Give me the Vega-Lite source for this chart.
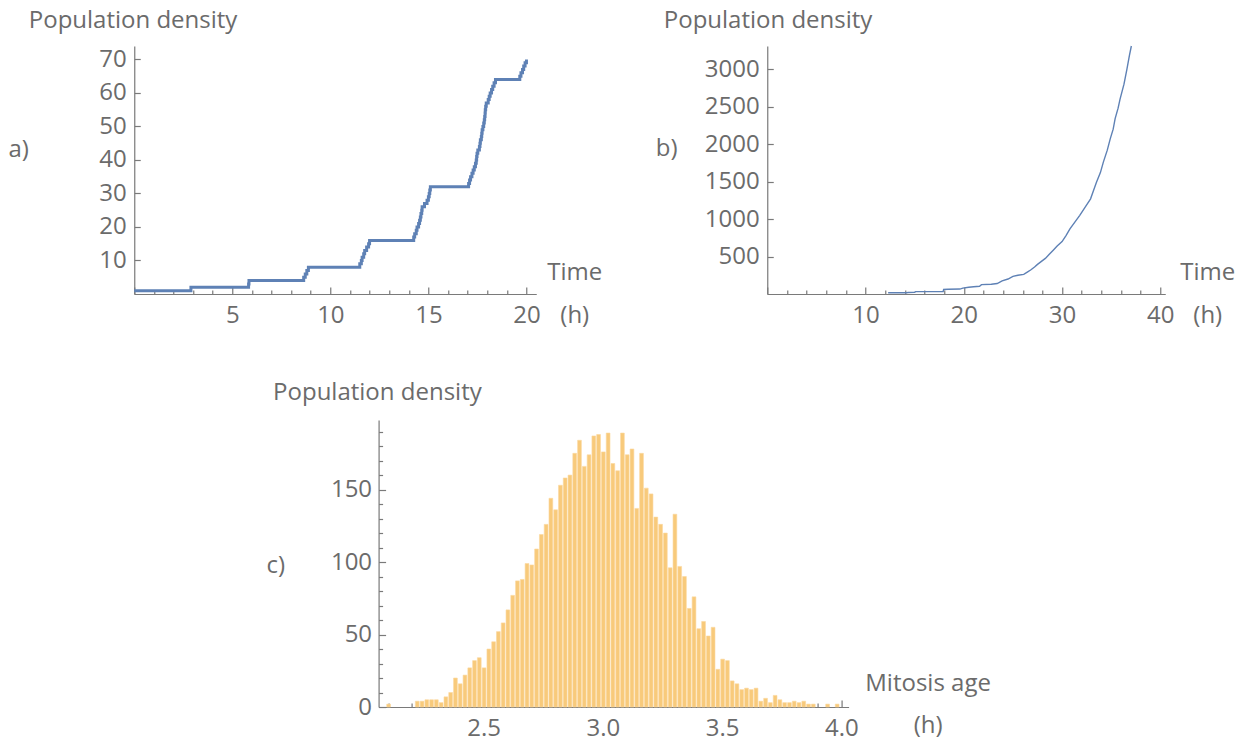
{
  "$schema": "https://vega.github.io/schema/vega-lite/v6.json",
  "background": "white",
  "padding": {"left": 8, "top": 8, "right": 5, "bottom": 5},
  "config": {
    "view": {"stroke": null},
    "font": "Open Sans",
    "axis": {
      "grid": false,
      "domainColor": "#7a7a7a", "domainWidth": 1.2,
      "tickColor": "#7a7a7a", "tickWidth": 1.2,
      "labelFont": "Open Sans", "labelFontSize": 24, "labelColor": "#6b6b6b",
      "titleFont": "Open Sans", "titleFontSize": 24, "titleColor": "#6b6b6b", "titleFontWeight": "normal"
    },
    "title": {"font": "Open Sans", "fontSize": 24, "color": "#6b6b6b", "fontWeight": "normal"}
  },
  "bounds": "full",
  "center": true,
  "spacing": 50,
  "vconcat": [
    {
      "bounds": "flush",
      "spacing": 231,
      "hconcat": [
        {
          "width": 402, "height": 248,
          "title": {"text": "a)", "orient": "left", "angle": 0, "align": "right", "baseline": "middle", "frame": "group", "offset": -4, "dx": 17, "dy": -20},
          "data": {"values": [
            {"t": 0, "n": 1}, {"t": 2.89, "n": 2}, {"t": 5.83, "n": 3}, {"t": 5.85, "n": 4},
            {"t": 8.64, "n": 5}, {"t": 8.72, "n": 6}, {"t": 8.8, "n": 7}, {"t": 8.88, "n": 8},
            {"t": 11.5, "n": 9}, {"t": 11.58, "n": 10}, {"t": 11.62, "n": 11}, {"t": 11.7, "n": 12},
            {"t": 11.75, "n": 13}, {"t": 11.85, "n": 14}, {"t": 11.95, "n": 15}, {"t": 12.0, "n": 16},
            {"t": 14.25, "n": 17}, {"t": 14.3, "n": 18}, {"t": 14.38, "n": 19}, {"t": 14.42, "n": 20},
            {"t": 14.5, "n": 21}, {"t": 14.55, "n": 22}, {"t": 14.59, "n": 23}, {"t": 14.62, "n": 24},
            {"t": 14.66, "n": 25}, {"t": 14.68, "n": 26}, {"t": 14.8, "n": 27}, {"t": 14.93, "n": 28},
            {"t": 15.0, "n": 29}, {"t": 15.04, "n": 30}, {"t": 15.07, "n": 31}, {"t": 15.1, "n": 32},
            {"t": 17.05, "n": 33}, {"t": 17.1, "n": 34}, {"t": 17.15, "n": 35}, {"t": 17.22, "n": 36},
            {"t": 17.28, "n": 37}, {"t": 17.34, "n": 38}, {"t": 17.4, "n": 39}, {"t": 17.44, "n": 40},
            {"t": 17.46, "n": 41}, {"t": 17.48, "n": 42}, {"t": 17.52, "n": 43}, {"t": 17.6, "n": 44},
            {"t": 17.63, "n": 45}, {"t": 17.65, "n": 46}, {"t": 17.7, "n": 47}, {"t": 17.72, "n": 48},
            {"t": 17.74, "n": 49}, {"t": 17.78, "n": 50}, {"t": 17.82, "n": 51}, {"t": 17.85, "n": 52},
            {"t": 17.87, "n": 53}, {"t": 17.89, "n": 54}, {"t": 17.9, "n": 55}, {"t": 17.92, "n": 56},
            {"t": 17.95, "n": 57}, {"t": 18.05, "n": 58}, {"t": 18.1, "n": 59}, {"t": 18.15, "n": 60},
            {"t": 18.22, "n": 61}, {"t": 18.28, "n": 62}, {"t": 18.35, "n": 63}, {"t": 18.42, "n": 64},
            {"t": 19.66, "n": 65}, {"t": 19.72, "n": 66}, {"t": 19.8, "n": 67}, {"t": 19.86, "n": 68},
            {"t": 19.93, "n": 69}, {"t": 20.0, "n": 70}
          ]},
          "mark": {"type": "line", "interpolate": "step-after", "color": "#5e81b5", "strokeWidth": 3},
          "encoding": {
            "x": {"field": "t", "type": "quantitative",
              "scale": {"domain": [0, 20.5], "nice": false, "zero": false},
              "axis": {
                "title": ["Time", "(h)"], "titleAngle": 0, "titleAlign": "center", "titleBaseline": "alphabetic",
                "titleX": 440, "titleY": -15, "titleLineHeight": 43,
                "values": [0,1,2,3,4,5,6,7,8,9,10,11,12,13,14,15,16,17,18,19,20],
                "labelExpr": "datum.value % 5 === 0 && datum.value > 0 ? datum.label : ''",
                "tickSize": {"condition": {"test": "datum.value % 5 === 0", "value": -7}, "value": -4},
                "labelPadding": 16, "labelFlush": false, "labelOverlap": false
              }},
            "y": {"field": "n", "type": "quantitative",
              "scale": {"domain": [0, 74], "nice": false},
              "axis": {
                "title": "Population density", "titleAngle": 0, "titleAlign": "left", "titleBaseline": "alphabetic",
                "titleX": -106, "titleY": -19,
                "values": [10, 20, 30, 40, 50, 60, 70],
                "tickSize": -6, "labelPadding": 14, "labelFlush": false, "labelOverlap": false
              }}
          }
        },
        {
          "width": 398, "height": 248,
          "title": {"text": "b)", "orient": "left", "angle": 0, "align": "right", "baseline": "middle", "frame": "group", "offset": -14, "dx": 22, "dy": -21},
          "data": {"values": [
            {"t": 12.3, "v": 16}, {"t": 14.2, "v": 16}, {"t": 14.3, "v": 20}, {"t": 15.0, "v": 24},
            {"t": 15.1, "v": 32}, {"t": 17.0, "v": 32}, {"t": 17.9, "v": 34}, {"t": 17.95, "v": 60},
            {"t": 18.4, "v": 64}, {"t": 19.6, "v": 66}, {"t": 19.9, "v": 78}, {"t": 20.5, "v": 90},
            {"t": 21.0, "v": 96}, {"t": 21.6, "v": 104}, {"t": 21.8, "v": 125}, {"t": 22.8, "v": 130},
            {"t": 23.4, "v": 140}, {"t": 23.9, "v": 175}, {"t": 24.5, "v": 200}, {"t": 25.0, "v": 235},
            {"t": 25.5, "v": 250}, {"t": 26.1, "v": 262}, {"t": 26.5, "v": 295}, {"t": 26.8, "v": 320},
            {"t": 27.2, "v": 360}, {"t": 27.5, "v": 395}, {"t": 28.0, "v": 445}, {"t": 28.3, "v": 475},
            {"t": 28.7, "v": 530}, {"t": 29.1, "v": 585}, {"t": 29.5, "v": 640}, {"t": 30.0, "v": 700},
            {"t": 30.4, "v": 780}, {"t": 30.8, "v": 870}, {"t": 31.3, "v": 960}, {"t": 31.8, "v": 1050},
            {"t": 32.3, "v": 1150}, {"t": 32.9, "v": 1270}, {"t": 33.2, "v": 1380}, {"t": 33.5, "v": 1490},
            {"t": 33.9, "v": 1620}, {"t": 34.2, "v": 1760}, {"t": 34.6, "v": 1920}, {"t": 34.9, "v": 2070},
            {"t": 35.2, "v": 2200}, {"t": 35.4, "v": 2340}, {"t": 35.7, "v": 2480}, {"t": 35.9, "v": 2600},
            {"t": 36.3, "v": 2800}, {"t": 36.6, "v": 3000}, {"t": 36.85, "v": 3180}, {"t": 37.05, "v": 3310}
          ]},
          "mark": {"type": "line", "color": "#5e81b5", "strokeWidth": 1.4},
          "encoding": {
            "x": {"field": "t", "type": "quantitative",
              "scale": {"domain": [0, 40.5], "nice": false, "zero": false},
              "axis": {
                "title": ["Time", "(h)"], "titleAngle": 0, "titleAlign": "center", "titleBaseline": "alphabetic",
                "titleX": 440, "titleY": -15, "titleLineHeight": 43,
                "values": [0,2,4,6,8,10,12,14,16,18,20,22,24,26,28,30,32,34,36,38,40],
                "labelExpr": "datum.value % 10 === 0 && datum.value > 0 ? datum.label : ''",
                "tickSize": {"condition": {"test": "datum.value % 10 === 0", "value": -7}, "value": -4},
                "labelPadding": 16, "labelFlush": false, "labelOverlap": false
              }},
            "y": {"field": "v", "type": "quantitative",
              "scale": {"domain": [0, 3310], "nice": false},
              "axis": {
                "title": "Population density", "titleAngle": 0, "titleAlign": "left", "titleBaseline": "alphabetic",
                "titleX": -104, "titleY": -19, "format": "d",
                "values": [500, 1000, 1500, 2000, 2500, 3000],
                "tickSize": -6, "labelPadding": 14, "labelFlush": false, "labelOverlap": false
              }}
          }
        }
      ]
    },
    {
      "width": 470, "height": 287,
      "title": {"text": "c)", "orient": "left", "angle": 0, "align": "right", "baseline": "middle", "frame": "group", "offset": -13, "dx": 18, "dy": 2},
      "data": {"values": [
        {"start": 2.09, "end": 2.11, "count": 2},
        {"start": 2.21, "end": 2.23, "count": 4}, {"start": 2.23, "end": 2.25, "count": 4},
        {"start": 2.25, "end": 2.27, "count": 5}, {"start": 2.27, "end": 2.29, "count": 5},
        {"start": 2.29, "end": 2.31, "count": 5}, {"start": 2.31, "end": 2.33, "count": 3},
        {"start": 2.33, "end": 2.35, "count": 7}, {"start": 2.35, "end": 2.37, "count": 10},
        {"start": 2.37, "end": 2.39, "count": 20}, {"start": 2.39, "end": 2.41, "count": 16},
        {"start": 2.41, "end": 2.43, "count": 22}, {"start": 2.43, "end": 2.45, "count": 27},
        {"start": 2.45, "end": 2.47, "count": 32}, {"start": 2.47, "end": 2.49, "count": 34},
        {"start": 2.49, "end": 2.51, "count": 27}, {"start": 2.51, "end": 2.53, "count": 40},
        {"start": 2.53, "end": 2.55, "count": 45}, {"start": 2.55, "end": 2.57, "count": 52},
        {"start": 2.57, "end": 2.59, "count": 58}, {"start": 2.59, "end": 2.61, "count": 67},
        {"start": 2.61, "end": 2.63, "count": 77}, {"start": 2.63, "end": 2.65, "count": 87},
        {"start": 2.65, "end": 2.67, "count": 88}, {"start": 2.67, "end": 2.69, "count": 99},
        {"start": 2.69, "end": 2.71, "count": 98}, {"start": 2.71, "end": 2.73, "count": 109},
        {"start": 2.73, "end": 2.75, "count": 119}, {"start": 2.75, "end": 2.77, "count": 126},
        {"start": 2.77, "end": 2.79, "count": 144}, {"start": 2.79, "end": 2.81, "count": 136},
        {"start": 2.81, "end": 2.83, "count": 153}, {"start": 2.83, "end": 2.85, "count": 158},
        {"start": 2.85, "end": 2.87, "count": 160}, {"start": 2.87, "end": 2.89, "count": 175},
        {"start": 2.89, "end": 2.91, "count": 184}, {"start": 2.91, "end": 2.93, "count": 166},
        {"start": 2.93, "end": 2.95, "count": 174}, {"start": 2.95, "end": 2.97, "count": 187},
        {"start": 2.97, "end": 2.99, "count": 188}, {"start": 2.99, "end": 3.01, "count": 176},
        {"start": 3.01, "end": 3.03, "count": 189}, {"start": 3.03, "end": 3.05, "count": 168},
        {"start": 3.05, "end": 3.07, "count": 163}, {"start": 3.07, "end": 3.09, "count": 189},
        {"start": 3.09, "end": 3.11, "count": 174}, {"start": 3.11, "end": 3.13, "count": 178},
        {"start": 3.13, "end": 3.15, "count": 137}, {"start": 3.15, "end": 3.17, "count": 175},
        {"start": 3.17, "end": 3.19, "count": 151}, {"start": 3.19, "end": 3.21, "count": 147},
        {"start": 3.21, "end": 3.23, "count": 131}, {"start": 3.23, "end": 3.25, "count": 126},
        {"start": 3.25, "end": 3.27, "count": 120}, {"start": 3.27, "end": 3.29, "count": 96},
        {"start": 3.29, "end": 3.31, "count": 133}, {"start": 3.31, "end": 3.33, "count": 97},
        {"start": 3.33, "end": 3.35, "count": 90}, {"start": 3.35, "end": 3.37, "count": 68},
        {"start": 3.37, "end": 3.39, "count": 76}, {"start": 3.39, "end": 3.41, "count": 54},
        {"start": 3.41, "end": 3.43, "count": 59}, {"start": 3.43, "end": 3.45, "count": 49},
        {"start": 3.45, "end": 3.47, "count": 55}, {"start": 3.47, "end": 3.49, "count": 26},
        {"start": 3.49, "end": 3.51, "count": 33}, {"start": 3.51, "end": 3.53, "count": 32},
        {"start": 3.53, "end": 3.55, "count": 18}, {"start": 3.55, "end": 3.57, "count": 16},
        {"start": 3.57, "end": 3.59, "count": 12}, {"start": 3.59, "end": 3.61, "count": 13},
        {"start": 3.61, "end": 3.63, "count": 12}, {"start": 3.63, "end": 3.65, "count": 13},
        {"start": 3.65, "end": 3.67, "count": 4}, {"start": 3.67, "end": 3.69, "count": 6},
        {"start": 3.69, "end": 3.71, "count": 3}, {"start": 3.71, "end": 3.73, "count": 8},
        {"start": 3.73, "end": 3.75, "count": 5}, {"start": 3.75, "end": 3.77, "count": 3},
        {"start": 3.77, "end": 3.79, "count": 3}, {"start": 3.79, "end": 3.81, "count": 4},
        {"start": 3.81, "end": 3.83, "count": 3}, {"start": 3.83, "end": 3.85, "count": 4},
        {"start": 3.85, "end": 3.87, "count": 2}, {"start": 3.87, "end": 3.89, "count": 2},
        {"start": 3.93, "end": 3.95, "count": 2}, {"start": 3.97, "end": 3.99, "count": 2}
      ]},
      "mark": {"type": "bar", "color": "#f8ca7b", "stroke": "#fbd9a0", "strokeWidth": 0.6},
      "encoding": {
        "x": {"field": "start", "type": "quantitative", "bin": "binned",
          "scale": {"domain": [2.06, 4.03], "nice": false, "zero": false},
          "axis": {
            "title": ["Mitosis age", "(h)"], "titleAngle": 0, "titleAlign": "center", "titleBaseline": "alphabetic",
            "titleX": 549, "titleY": -17, "titleLineHeight": 42,
            "values": [2.1,2.2,2.3,2.4,2.5,2.6,2.7,2.8,2.9,3.0,3.1,3.2,3.3,3.4,3.5,3.6,3.7,3.8,3.9,4.0],
            "labelExpr": "abs(datum.value*2 - round(datum.value*2)) < 0.001 ? format(datum.value, '.1f') : ''",
            "tickSize": {"condition": {"test": "abs(datum.value*2 - round(datum.value*2)) < 0.001", "value": -7}, "value": -4},
            "labelPadding": 16, "labelFlush": false, "labelOverlap": false
          }},
        "x2": {"field": "end"},
        "y": {"field": "count", "type": "quantitative",
          "scale": {"domain": [0, 198], "nice": false},
          "axis": {
            "title": "Population density", "titleAngle": 0, "titleAlign": "left", "titleBaseline": "alphabetic",
            "titleX": -106, "titleY": -21,
            "values": [0,10,20,30,40,50,60,70,80,90,100,110,120,130,140,150,160,170,180,190],
            "labelExpr": "datum.value % 50 === 0 ? datum.label : ''",
            "tickSize": {"condition": {"test": "datum.value % 50 === 0", "value": -7}, "value": -4},
            "labelPadding": 14, "labelFlush": false, "labelOverlap": false
          }}
      }
    }
  ]
}
